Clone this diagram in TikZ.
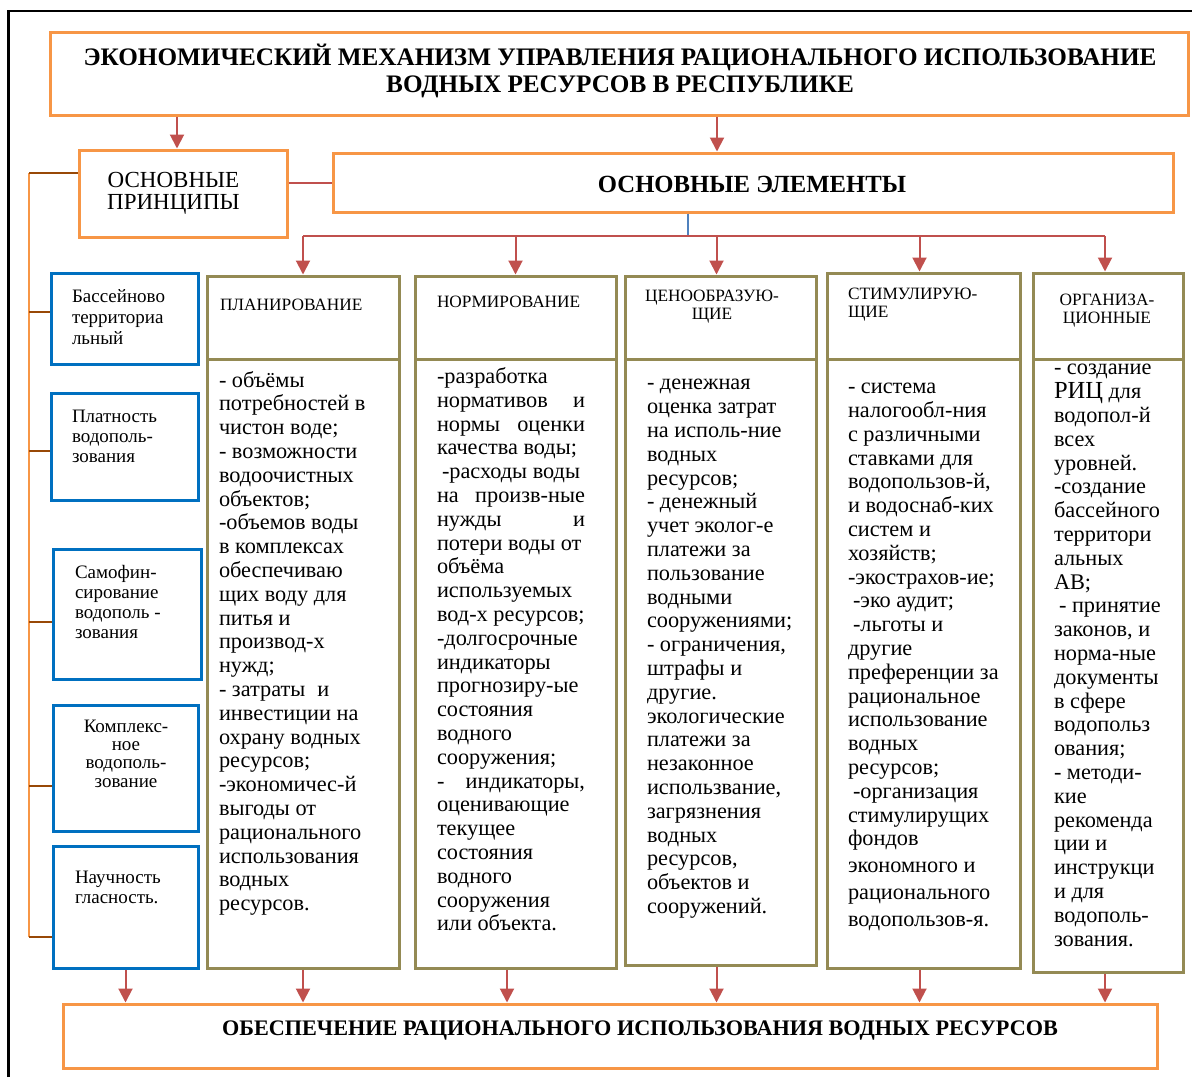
\documentclass[tikz,border=0pt]{standalone}
\usepackage{fontspec}
\setmainfont{Liberation Serif}
\usetikzlibrary{arrows.meta}
\definecolor{orangeC}{HTML}{F79646}
\definecolor{blueC}{HTML}{0070C0}
\definecolor{oliveC}{HTML}{948A54}
\definecolor{redC}{HTML}{C0504D}
\definecolor{brownC}{HTML}{984806}
\definecolor{lblueC}{HTML}{4F81BD}
\newcommand\boxnode[6]{\node[#1, minimum width={(#5)-(#3)}, minimum height={(#6)-(#4)}] (#2) at ({((#3)+(#5))/2},{((#4)+(#6))/2}) {};}
\newcommand\jb[1]{\hbox to 148pt{#1}}
\begin{document}
\begin{tikzpicture}[x=1pt,y=-1pt,
  obox/.style={draw=orangeC,line width=3pt,inner sep=0pt,rectangle},
  bbox/.style={draw=blueC,line width=3pt,inner sep=0pt,rectangle},
  gbox/.style={draw=oliveC,line width=3pt,inner sep=0pt,rectangle},
  arr/.style={draw=redC,line width=2pt,-{Triangle[width=14pt,length=14pt]}},
  redline/.style={draw=redC,line width=2pt},
  blueline/.style={draw=lblueC,line width=2pt},
  tick/.style={draw=brownC,line width=2pt},
  vline/.style={draw=orangeC,line width=2pt},
  txt/.style={inner sep=0pt,outer sep=0pt,align=left,anchor=north west},
  ctxt/.style={inner sep=0pt,outer sep=0pt,align=center,anchor=north},
  btxt/.style={inner sep=0pt,outer sep=0pt},
  bodyf/.style={font=\fontsize{22.3}{23.8}\selectfont},
  headf/.style={font=\fontsize{17.3}{17.5}\selectfont},
  leftf/.style={font=\fontsize{19}{20}\selectfont}
]
\useasboundingbox (0,0) rectangle (1192,1077);
\draw[line width=2.5pt] (8.5,1077) -- (8.5,11) -- (1192,11);

% boxes
\boxnode{obox}{title}{50}{32}{1188}{115}
\boxnode{obox}{prin}{79}{150}{287}{237}
\boxnode{obox}{elem}{333}{153}{1173}{212}
\boxnode{bbox}{lb1}{51}{273}{198}{364}
\boxnode{bbox}{lb2}{51}{393}{198}{500}
\boxnode{bbox}{lb3}{53}{549}{201}{679}
\boxnode{bbox}{lb4}{53}{705}{198}{831}
\boxnode{bbox}{lb5}{53}{846}{198}{968}
\boxnode{gbox}{c1h}{207}{276}{399}{359}
\boxnode{gbox}{c1b}{207}{359}{399}{968}
\boxnode{gbox}{c2h}{415}{276}{616}{359}
\boxnode{gbox}{c2b}{415}{359}{616}{968}
\boxnode{gbox}{c3h}{625}{276}{816}{359}
\boxnode{gbox}{c3b}{625}{359}{816}{965}
\boxnode{gbox}{c4h}{827}{273}{1020}{359}
\boxnode{gbox}{c4b}{827}{359}{1020}{968}
\boxnode{gbox}{c5h}{1033}{273}{1183}{359}
\boxnode{gbox}{c5b}{1033}{359}{1183}{972}
\boxnode{obox}{bot}{63}{1004}{1157}{1068}

% connectors top
\draw[arr] ([xshift=-6pt]prin.north |- title.south) -- ([xshift=-6pt]prin.north);
\draw[arr] ([xshift=-36pt]elem.north |- title.south) -- ([xshift=-36pt]elem.north);
\draw[redline] (prin.east |- elem.west) -- (elem.west);
\coordinate (hub) at (688,236);
\draw[blueline] (elem.south -| hub) -- (hub);
\draw[redline] (c1h.north |- hub) -- ([xshift=-3pt]c5h.north |- hub);
\draw[arr] (c1h.north |- hub) -- (c1h.north);
\draw[arr] (c2h.north |- hub) -- (c2h.north);
\draw[arr] ([xshift=-4pt]c3h.north |- hub) -- ([xshift=-4pt]c3h.north);
\draw[arr] ([xshift=-4pt]c4h.north |- hub) -- ([xshift=-4pt]c4h.north);
\draw[arr] ([xshift=-3pt]c5h.north |- hub) -- ([xshift=-3pt]c5h.north);

% bottom arrows
\draw[arr] (lb5.south) -- (lb5.south |- bot.north);
\draw[arr] (c1b.south) -- (c1b.south |- bot.north);
\draw[arr] ([xshift=-8.5pt]c2b.south) -- ([xshift=-8.5pt]c2b.south |- bot.north);
\draw[arr] ([xshift=-4pt]c3b.south) -- ([xshift=-4pt]c3b.south |- bot.north);
\draw[arr] ([xshift=-4pt]c4b.south) -- ([xshift=-4pt]c4b.south |- bot.north);
\draw[arr] ([xshift=-3pt]c5b.south) -- ([xshift=-3pt]c5b.south |- bot.north);

% left bracket
\coordinate (btop) at (29,173);
\coordinate (t1) at (29,312);
\coordinate (t2) at (29,451);
\coordinate (t3) at (29,622);
\coordinate (t4) at (29,786);
\coordinate (t5) at (29,937);
\draw[vline] (btop) -- (t5);
\draw[tick] (btop) -- (btop -| prin.west);
\draw[tick] (t1) -- (t1 -| lb1.west);
\draw[tick] (t2) -- (t2 -| lb2.west);
\draw[tick] (t3) -- (t3 -| lb3.west);
\draw[tick] (t4) -- (t4 -| lb4.west);
\draw[tick] (t5) -- (t5 -| lb5.west);

% texts
\node[ctxt,font=\bfseries\fontsize{25.2}{27}\selectfont] (titletext) at (620,44.3)
 {\strut ЭКОНОМИЧЕСКИЙ МЕХАНИЗМ УПРАВЛЕНИЯ РАЦИОНАЛЬНОГО ИСПОЛЬЗОВАНИЕ\\ВОДНЫХ РЕСУРСОВ В РЕСПУБЛИКЕ};
\node[ctxt,font=\fontsize{23}{21}\selectfont] (printext) at (173.5,172.3) {\strut ОСНОВНЫЕ\\ПРИНЦИПЫ};
\node[btxt,anchor=base,font=\bfseries\fontsize{24.7}{27}\selectfont] (elemtext) at (752,192.3) {ОСНОВНЫЕ ЭЛЕМЕНТЫ};
\node[btxt,anchor=base,font=\bfseries\fontsize{22.2}{26}\selectfont] (bottext) at (640,1035) {ОБЕСПЕЧЕНИЕ РАЦИОНАЛЬНОГО ИСПОЛЬЗОВАНИЯ ВОДНЫХ РЕСУРСОВ};

\node[txt,font=\fontsize{19}{21}\selectfont] (lt1) at (72,287.3) {\strut Бассейново\\территориа\\льный};
\node[txt,leftf] (lt2) at (72,408) {\strut Платность\\водополь-\\зования};
\node[txt,leftf] (lt3) at (75,564) {\strut Самофин-\\сирование\\водополь -\\зования};
\node[ctxt,font=\fontsize{19}{18.3}\selectfont] (lt4) at (126,719.5) {\strut Комплекс-\\ное\\водополь-\\зование};
\node[txt,leftf] (lt5) at (75,869) {\strut Научность\\гласность.};

\node[btxt,anchor=base west,headf] (h1) at (220,310) {ПЛАНИРОВАНИЕ};
\node[btxt,anchor=base west,headf] (h2) at (437,307) {НОРМИРОВАНИЕ};
\node[ctxt,headf] (h3) at (712,289.25) {\strut ЦЕНООБРАЗУЮ-\\ЩИЕ};
\node[txt,headf] (h4) at (848,287.25) {\strut СТИМУЛИРУЮ-\\ЩИЕ};
\node[ctxt,headf] (h5) at (1107,293.25) {\strut ОРГАНИЗА-\\ЦИОННЫЕ};

\node[txt,bodyf] (b1) at (219,370.5) {\strut - объёмы\\потребностей в\\чистон воде;\\- возможности\\водоочистных\\объектов;\\-объемов воды\\в комплексах\\обеспечиваю\\щих воду для\\питья и\\производ-х\\нужд;\\- затраты\hspace{12pt}и\\инвестиции на\\охрану водных\\ресурсов;\\-экономичес-й\\выгоды от\\рационального\\использования\\водных\\ресурсов.};

\node[txt,bodyf] (b2) at (437,366.8) {\strut -разработка\\\jb{нормативов\hfill и}\\\jb{нормы\hfill оценки}\\качества воды;\\\hspace{5pt}-расходы воды\\\jb{на\hfill произв-ные}\\\jb{нужды\hfill и}\\потери воды от\\объёма\\используемых\\вод-х ресурсов;\\-долгосрочные\\индикаторы\\прогнозиру-ые\\состояния\\водного\\сооружения;\\\jb{-\hfill индикаторы,}\\оценивающие\\текущее\\состояния\\водного\\сооружения\\или объекта.};

\node[txt,bodyf] (b3) at (647,373.3) {\strut - денежная\\оценка затрат\\на исполь-ние\\водных\\ресурсов;\\- денежный\\учет эколог-е\\платежи за\\пользование\\водными\\сооружениями;\\- ограничения,\\штрафы и\\другие.\\экологические\\платежи за\\незаконное\\использвание,\\загрязнения\\водных\\ресурсов,\\объектов и\\сооружений.};

\node[txt,bodyf] (b4) at (848,377) {\strut - система\\налогообл-ния\\с различными\\ставками для\\водопользов-й,\\и водоснаб-ких\\систем и\\хозяйств;\\-экострахов-ие;\\\hspace{5pt}-эко аудит;\\\hspace{5pt}-льготы и\\другие\\преференции за\\рациональное\\использование\\водных\\ресурсов;\\\hspace{5pt}-организация\\стимулирущих\\фондов\\[3pt]экономного и\\[3pt]рационального\\[3pt]водопользов-я.};

\node[txt,bodyf] (b5) at (1054,358.3) {\strut - создание\\{\fontsize{24.5}{23.8}\selectfont РИЦ} для\\водопол-й\\всех\\уровней.\\-создание\\бассейного\\территори\\альных\\АВ;\\\hspace{5pt}- принятие\\законов, и\\норма-ные\\документы\\в сфере\\водопольз\\ования;\\- методи-\\кие\\рекоменда\\ции и\\инструкци\\и для\\водополь-\\зования.};
\end{tikzpicture}
\end{document}
